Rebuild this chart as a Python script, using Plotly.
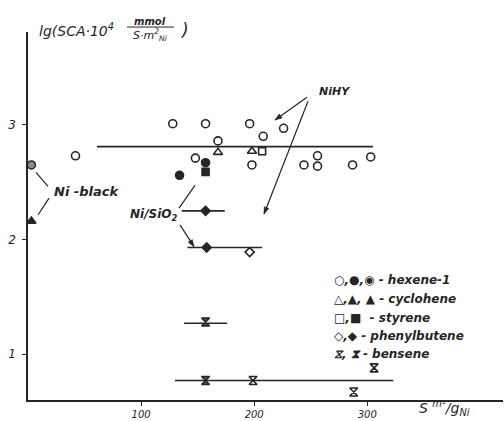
import math
import plotly.graph_objects as go

# ---------------- data ----------------
# hexene-1
hex_open_x = [42, 128, 157, 196, 168, 208, 226, 148, 198, 244, 256, 256, 287, 303]
hex_open_y = [2.73, 3.01, 3.01, 3.01, 2.86, 2.90, 2.97, 2.71, 2.65, 2.65, 2.73, 2.64, 2.65, 2.72]
hex_sio2_x = [134, 157]
hex_sio2_y = [2.56, 2.67]
hex_black_x = [3]
hex_black_y = [2.65]
# cyclohexene
cyc_open_x = [168, 198]
cyc_open_y = [2.76, 2.77]
cyc_sio2_x = [157]
cyc_sio2_y = [2.25]
cyc_black_x = [3]
cyc_black_y = [2.16]
# styrene
sty_open_x = [207]
sty_open_y = [2.77]
sty_sio2_x = [157]
sty_sio2_y = [2.59]
# phenylbutene
phb_open_x = [196]
phb_open_y = [1.89]
phb_sio2_x = [158]
phb_sio2_y = [1.93]
# benzene
ben_open_x = [199, 288, 306]
ben_open_y = [0.77, 0.67, 0.88]
ben_sio2_x = [157, 157]
ben_sio2_y = [1.28, 0.77]

# mean lines
line_y = [2.81, 2.25, 1.93, 1.27, 0.77]
line_x0 = [61, 136, 141, 138, 130]
line_x1 = [305, 174, 207, 176, 323]

x_ticks = [100, 200, 300]
y_ticks = [1, 2, 3]

INK = "#262626"
FONT = "DejaVu Sans"

fig = go.Figure()

# all mean lines in one trace (separated by gaps)
lx, ly = [], []
for y, a, b in zip(line_y, line_x0, line_x1):
    lx += [a, b, None]
    ly += [y, y, None]
fig.add_trace(go.Scatter(x=lx, y=ly, mode="lines", connectgaps=False,
                         line=dict(color=INK, width=1.6), hoverinfo="skip"))

# all markers in one trace
groups = [
    (hex_open_x, hex_open_y, "circle-open", 8, INK),
    (hex_sio2_x, hex_sio2_y, "circle", 8, INK),
    (hex_black_x, hex_black_y, "circle", 8, "#8a8a8a"),
    (cyc_open_x, cyc_open_y, "triangle-up-open", 8, INK),
    (cyc_sio2_x, cyc_sio2_y, "diamond", 7, INK),
    (cyc_black_x, cyc_black_y, "triangle-up", 8, INK),
    (sty_open_x, sty_open_y, "square-open", 7, INK),
    (sty_sio2_x, sty_sio2_y, "square", 7, INK),
    (phb_open_x, phb_open_y, "diamond-open", 7, INK),
    (phb_sio2_x, phb_sio2_y, "diamond", 7, INK),
    (ben_open_x, ben_open_y, "hourglass-open", 8, INK),
    (ben_sio2_x, ben_sio2_y, "hourglass", 8, "#555555"),
]
mx, my, msym, msize, mcol = [], [], [], [], []
for gx, gy, s, sz, c in groups:
    mx += gx
    my += gy
    msym += [s] * len(gx)
    msize += [sz] * len(gx)
    mcol += [c] * len(gx)
fig.add_trace(go.Scatter(x=mx, y=my, mode="markers", cliponaxis=False,
                         marker=dict(symbol=msym, size=msize, color=mcol, opacity=1,
                                     line=dict(color=INK, width=1.6))))

# ---------------- layout ----------------
L, T, W, H = 28, 32, 475, 372

def P(px, py):
    return (px - L) / W, (T + H - py) / H

annos = []
def txt(px, py, text, size=12, xanchor="left"):
    x, y = P(px, py)
    annos.append(dict(x=x, y=y, xref="paper", yref="paper", text=text, showarrow=False,
                      xanchor=xanchor, yanchor="middle",
                      font=dict(family=FONT, size=size, color=INK, style="italic")))

shapes = []
def seg(p0, p1, width=1.2):
    x0, y0 = P(*p0)
    x1, y1 = P(*p1)
    shapes.append(dict(type="line", xref="paper", yref="paper", x0=x0, y0=y0, x1=x1, y1=y1,
                       line=dict(color=INK, width=width)))

def arrow(tail, head):
    seg(tail, head)
    dx, dy = head[0] - tail[0], head[1] - tail[1]
    n = math.hypot(dx, dy)
    ux, uy = dx / n, dy / n
    px_, py_ = -uy, ux
    b = (head[0] - 7 * ux, head[1] - 7 * uy)
    p1 = (b[0] + 2.5 * px_, b[1] + 2.5 * py_)
    p2 = (b[0] - 2.5 * px_, b[1] - 2.5 * py_)
    pts_ = [P(*head), P(*p1), P(*p2)]
    path = "M {} {} L {} {} L {} {} Z".format(*[c for p in pts_ for c in p])
    shapes.append(dict(type="path", xref="paper", yref="paper", path=path,
                       fillcolor=INK, line=dict(color=INK, width=0.5)))

# y-axis title
txt(37, 30, "lg(SCA·10<sup>4</sup>", 14)
txt(150, 21, "<b>mmol</b>", 10, xanchor="center")
seg((127, 27), (174, 27), 1.0)
txt(150, 35, "S·m<sup>2</sup><sub>Ni</sub>", 11, xanchor="center")
txt(178, 30, ")", 17)
# x-axis title
txt(417, 412, "S <sup>m²</sup>/g<sub>Ni</sub>", 14)
# labels
txt(52, 193, "<b>Ni -black</b>", 13)
txt(128, 217, "<b>Ni/SiO<sub>2</sub></b>", 12)
txt(317, 92, "<b>NiHY</b>", 11)
# legend
legend_rows = [
    (283, "○,●,◉ - hexene-1"),
    (302, "△,▲, ▲ - cyclohene"),
    (321, "□,■  - styrene"),
    (339, "◇,◆ - phenylbutene"),
    (357, "⧖, ⧗ - bensene"),
]
for py, t in legend_rows:
    txt(332, py, "<b>" + t + "</b>", 12)

# leader lines / arrows
arrow((307, 98), (275, 121))
arrow((308, 102), (264, 216))
arrow((180, 227), (194, 249))
seg((36, 174), (48, 188))
seg((38, 217), (49, 200))
seg((179, 210), (195, 187))

fig.update_layout(
    width=504, height=421,
    margin=dict(l=L, r=504 - L - W, t=T, b=421 - T - H),
    paper_bgcolor="white", plot_bgcolor="white",
    showlegend=False,
    annotations=annos, shapes=shapes,
    xaxis=dict(range=[0, 420], tickvals=x_ticks, ticks="outside", ticklen=4,
               tickcolor=INK, showline=True, linecolor=INK, linewidth=1.6,
               showgrid=False, zeroline=False,
               tickfont=dict(family=FONT, size=10, color=INK, style="italic")),
    yaxis=dict(range=[0.6, 3.81], tickvals=y_ticks, ticks="outside", ticklen=4,
               tickcolor=INK, showline=True, linecolor=INK, linewidth=1.6,
               showgrid=False, zeroline=False, ticklabelstandoff=4,
               tickfont=dict(family=FONT, size=12, color=INK, style="italic")),
)

fig.write_html("out.html")
